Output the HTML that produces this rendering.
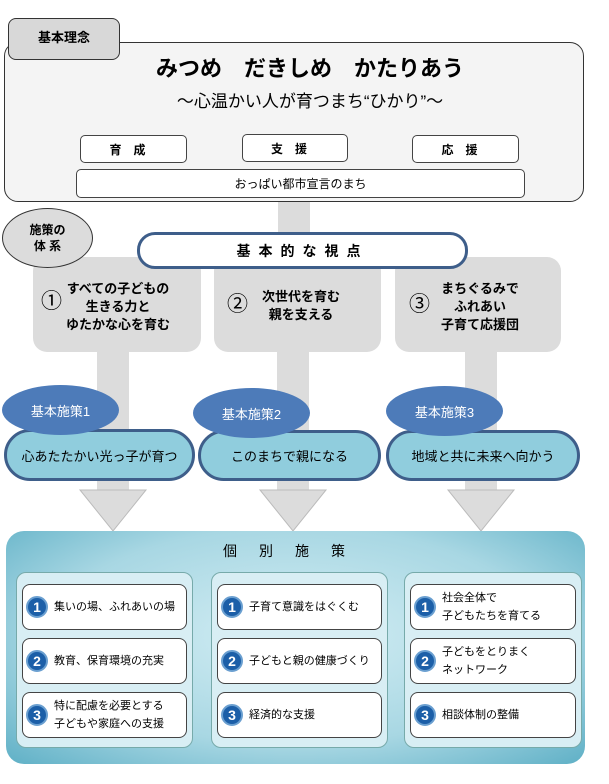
<!DOCTYPE html>
<html><head><meta charset="utf-8"><style>
*{margin:0;padding:0;box-sizing:border-box}
body{width:609px;height:784px;background:#fff;position:relative;overflow:hidden;font-family:"Liberation Sans","Noto Sans CJK JP",sans-serif;color:#000}
.a{position:absolute}
.c{display:flex;align-items:center;justify-content:center;text-align:center}
.gray{background:#dcdcdc}
.btn{background:#fff;border:1.5px solid #444;border-radius:5px;font-size:12px;font-weight:bold;letter-spacing:12px}
.ell{background:#4d7bb9;border-radius:50%;color:#fff;font-size:13px}
.pill{background:#90cddd;border:3px solid #3e5e8a;border-radius:26px;font-size:13px}
.col{background:#d8eef4;border:1px solid #7aa;border-radius:10px}
.it{position:absolute;left:5px;right:5px;height:46px;background:#fff;border:1.5px solid #444;border-radius:8px;font-size:11px;display:flex;align-items:center;line-height:18px;white-space:nowrap}
.n{width:22px;height:22px;border-radius:50%;background:#1c5fa8;border:2px solid #6a9fd0;color:#fff;font-weight:bold;font-size:14px;display:flex;align-items:center;justify-content:center;margin:0 6px 0 3px;flex:none}
.hd{font-size:13px;font-weight:bold;line-height:18px}
.cn{font-size:21px}
</style></head><body>
<div class="a" style="left:4px;top:42px;width:580px;height:160px;background:#f4f4f4;border:1.5px solid #333;border-radius:14px"></div>
<div class="a c" style="left:8px;top:18px;width:112px;height:42px;background:#d8d8d8;border:1.5px solid #333;border-radius:8px;font-size:13px;font-weight:bold;padding-bottom:6px">基本理念</div>
<div class="a c" style="left:100px;top:52px;width:420px;height:30px;font-size:22px;font-weight:bold;white-space:pre">みつめ　だきしめ　かたりあう</div>
<div class="a c" style="left:100px;top:86px;width:420px;height:26px;font-size:17px">～心温かい人が育つまち“ひかり”～</div>
<div class="a c btn" style="left:80px;top:135px;width:107px;height:28px">育成</div>
<div class="a c btn" style="left:242px;top:134px;width:106px;height:28px">支援</div>
<div class="a c btn" style="left:412px;top:135px;width:107px;height:28px">応援</div>
<div class="a c" style="left:76px;top:169px;width:449px;height:29px;background:#fff;border:1.5px solid #444;border-radius:5px;font-size:12px">おっぱい都市宣言のまち</div>
<div class="a gray" style="left:278px;top:202px;width:32px;height:34px"></div>
<div class="a gray" style="left:33px;top:257px;width:168px;height:95px;border-radius:14px"></div>
<div class="a gray" style="left:214px;top:257px;width:167px;height:95px;border-radius:14px"></div>
<div class="a gray" style="left:395px;top:257px;width:166px;height:95px;border-radius:14px"></div>
<div class="a gray" style="left:97px;top:350px;width:32px;height:142px"></div>
<div class="a gray" style="left:277px;top:350px;width:32px;height:142px"></div>
<div class="a gray" style="left:465px;top:350px;width:32px;height:142px"></div>
<svg class="a" style="left:0;top:0" width="609" height="784">
<polygon points="80,490 146,490 113,531" fill="#dcdcdc" stroke="#bbb"/>
<polygon points="260,490 326,490 293,531" fill="#dcdcdc" stroke="#bbb"/>
<polygon points="448,490 514,490 481,531" fill="#dcdcdc" stroke="#bbb"/>
</svg>
<div class="a c" style="left:2px;top:208px;width:91px;height:60px;border-radius:50%;background:#dcdcdc;border:1.5px solid #333;font-size:12px;font-weight:bold;line-height:16px">施策の<br>体 系</div>
<div class="a c" style="left:137px;top:232px;width:331px;height:37px;background:#fff;border:3px solid #3e5e8a;border-radius:18px;font-size:14px;font-weight:bold;letter-spacing:8px">基本的な視点</div>
<div class="a cn" style="left:41px;top:285px">①</div>
<div class="a hd" style="left:66px;top:280px;width:104px;text-align:center">すべての子どもの<br>生きる力と<br>ゆたかな心を育む</div>
<div class="a cn" style="left:227px;top:288px">②</div>
<div class="a hd" style="left:256px;top:288px;width:90px;text-align:center">次世代を育む<br>親を支える</div>
<div class="a cn" style="left:409px;top:288px">③</div>
<div class="a hd" style="left:430px;top:280px;width:100px;text-align:center">まちぐるみで<br>ふれあい<br>子育て応援団</div>
<div class="a c pill" style="left:4px;top:429px;width:191px;height:52px">心あたたかい光っ子が育つ</div>
<div class="a c pill" style="left:198px;top:430px;width:183px;height:51px">このまちで親になる</div>
<div class="a c pill" style="left:386px;top:430px;width:194px;height:51px">地域と共に未来へ向かう</div>
<div class="a c ell" style="left:2px;top:385px;width:117px;height:50px">基本施策1</div>
<div class="a c ell" style="left:193px;top:388px;width:117px;height:50px">基本施策2</div>
<div class="a c ell" style="left:386px;top:386px;width:117px;height:50px">基本施策3</div>
<div class="a" style="left:6px;top:531px;width:579px;height:233px;border-radius:18px;background:radial-gradient(ellipse at 50% 45%,#d4eef4 0%,#a8d7e3 60%,#5fb0c6 100%)"></div>
<div class="a c" style="left:200px;top:540px;width:190px;height:22px;font-size:14px;letter-spacing:22px">個別施策</div>
<div class="a col" style="left:16px;top:572px;width:177px;height:176px">
<div class="it" style="top:11px"><span class="n">1</span>集いの場、ふれあいの場</div>
<div class="it" style="top:65px"><span class="n">2</span>教育、保育環境の充実</div>
<div class="it" style="top:119px"><span class="n">3</span>特に配慮を必要とする<br>子どもや家庭への支援</div>
</div>
<div class="a col" style="left:211px;top:572px;width:177px;height:176px">
<div class="it" style="top:11px"><span class="n">1</span>子育て意識をはぐくむ</div>
<div class="it" style="top:65px"><span class="n">2</span>子どもと親の健康づくり</div>
<div class="it" style="top:119px"><span class="n">3</span>経済的な支援</div>
</div>
<div class="a col" style="left:404px;top:572px;width:178px;height:176px">
<div class="it" style="top:11px"><span class="n">1</span>社会全体で<br>子どもたちを育てる</div>
<div class="it" style="top:65px"><span class="n">2</span>子どもをとりまく<br>ネットワーク</div>
<div class="it" style="top:119px"><span class="n">3</span>相談体制の整備</div>
</div>
</body></html>
